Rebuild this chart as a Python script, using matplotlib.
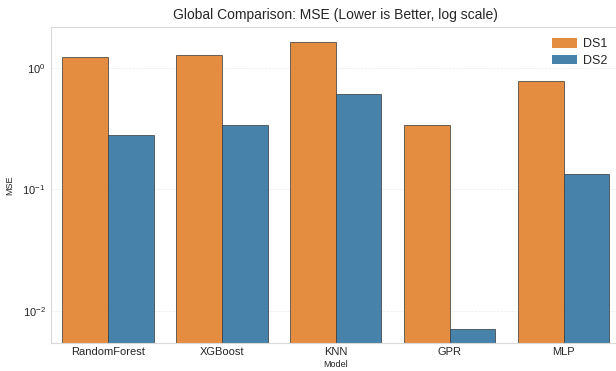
import matplotlib
matplotlib.use("Agg")
import matplotlib.pyplot as plt
import numpy as np
import seaborn as sns

models = ["RandomForest", "XGBoost", "KNN", "GPR", "MLP"]
mse_ds1 = [1.24, 1.28, 1.65, 0.34, 0.78]
mse_ds2 = [0.281, 0.34, 0.607, 0.0071, 0.133]
series_names = ["DS1", "DS2"]

sns.set_theme(style="whitegrid")
plt.rcParams["font.family"] = ["Liberation Sans", "DejaVu Sans"]

colors = [sns.desaturate("#ff7f0e", 0.75), sns.desaturate("#1f77b4", 0.75)]

fig = plt.figure(figsize=(6.16, 3.71), dpi=100)
ax = fig.add_axes([0.0828, 0.0755, 0.925, 0.8517])

x = np.arange(len(models))
width = 0.4
for i, (name, vals) in enumerate(zip(series_names, [mse_ds1, mse_ds2])):
    ax.bar(x - 0.2 + i * width, vals, width=width, color=colors[i], alpha=0.9,
           edgecolor="0.25", linewidth=0.6, label=name, log=True)

ax.set_yscale("log")
ax.set_ylim(10 ** -2.263, 10 ** 0.337)
ax.set_xlim(-0.5, 4.5)
ax.set_xticks(x)
ax.set_xticklabels(models)
ax.tick_params(axis="both", which="both", length=0)
ax.tick_params(axis="x", labelsize=8, pad=3, colors="0.15")
ax.tick_params(axis="y", labelsize=8, pad=4, colors="0.15")
ax.set_xlabel("Model", fontsize=6.5, labelpad=2, color="0.15")
ax.set_ylabel("MSE", fontsize=6.5, labelpad=6, color="0.15")
ax.set_title("Global Comparison: MSE (Lower is Better, log scale)", fontsize=10,
             color="0.15", pad=6)
ax.grid(axis="y", which="major", linestyle="--", linewidth=0.5, alpha=0.4)
ax.grid(axis="x", visible=False)
ax.set_axisbelow(True)
for s in ax.spines.values():
    s.set_color("0.85")
    s.set_linewidth(0.8)

leg = ax.legend(loc="upper right", bbox_to_anchor=(0.997, 1.0), fontsize=9,
                frameon=False, handlelength=2.0, handleheight=0.8,
                handletextpad=0.5, labelspacing=0.35)
for h in leg.legend_handles:
    h.set_edgecolor("none")

fig.savefig("out.png", dpi=100)
